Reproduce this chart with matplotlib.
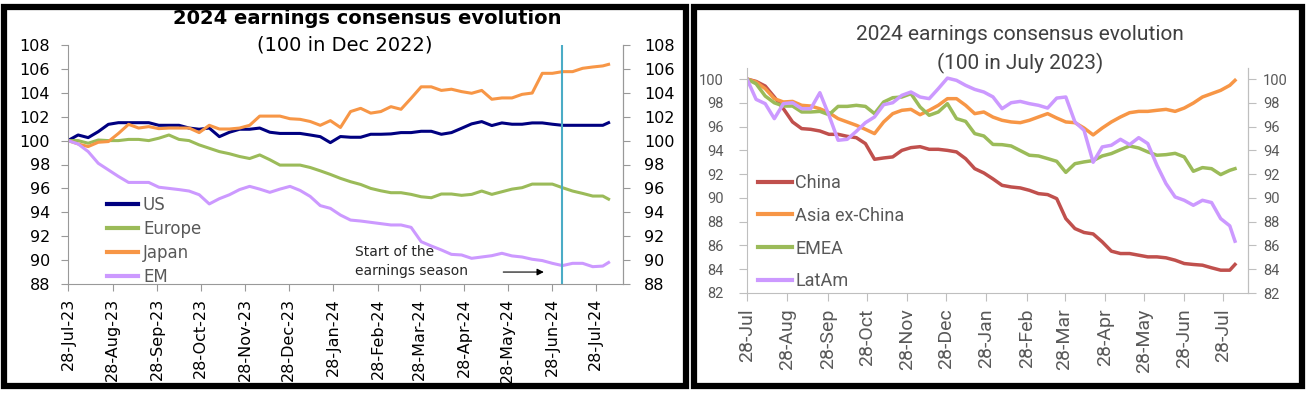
import pandas as pd
import matplotlib.pyplot as plt
import matplotlib.dates as mdates
from matplotlib.patches import Rectangle

# weekly observations, last one is a partial week
dates = list(pd.date_range('2023-07-28', periods=54, freq='7D')) + [pd.Timestamp('2024-08-06')]
month_ticks = pd.date_range('2023-07-28', periods=13, freq=pd.DateOffset(months=1))
season_start = pd.Timestamp('2024-07-05')

# left panel (DM / EM)
us = [100.0, 100.47, 100.25, 100.75, 101.36, 101.5, 101.5, 101.5, 101.5, 101.28, 101.28, 101.28, 101.05, 100.95,
      101.05, 100.33, 100.7, 100.95, 100.95, 101.05, 100.7, 100.6, 100.6, 100.6, 100.47, 100.33, 99.83,
      100.34, 100.28, 100.28, 100.53, 100.53, 100.56, 100.67, 100.67, 100.78, 100.78, 100.53, 100.67, 101.03,
      101.4, 101.59, 101.26, 101.48, 101.37, 101.37, 101.48, 101.48, 101.37, 101.28, 101.28, 101.28, 101.28,
      101.28, 101.5]
europe = [100.0, 100.0, 99.78, 100.05, 100.0, 100.0, 100.1, 100.1, 100.0, 100.2, 100.47, 100.1, 100.0, 99.64,
          99.36, 99.08, 98.9, 98.67, 98.5, 98.8, 98.4, 97.95, 97.95, 97.95, 97.75, 97.47, 97.17,
          96.84, 96.56, 96.33, 96.0, 95.8, 95.64, 95.64, 95.5, 95.3, 95.22, 95.53, 95.53, 95.42, 95.5, 95.78,
          95.5, 95.72, 95.94, 96.06, 96.36, 96.36, 96.36, 96.06, 95.78, 95.58, 95.36, 95.36, 95.1]
japan = [100.0, 99.72, 99.5, 99.86, 99.92, 100.6, 101.36, 101.05, 101.17, 101.0, 101.05, 101.05, 101.05, 100.67,
         101.28, 100.97, 100.97, 101.05, 101.28, 102.05, 102.05, 102.05, 101.83, 101.78, 101.6, 101.28, 101.67,
         101.1, 102.43, 102.7, 102.3, 102.43, 102.84, 102.62, 103.54, 104.5, 104.5, 104.2, 104.3, 104.1, 103.96,
         104.2, 103.46, 103.57, 103.57, 103.87, 103.98, 105.63, 105.63, 105.77, 105.77, 106.05, 106.16, 106.25,
         106.38]
em = [100.0, 99.72, 99.08, 98.1, 97.55, 97.0, 96.5, 96.5, 96.5, 96.1, 96.0, 95.9, 95.78, 95.47, 94.7, 95.14,
      95.47, 95.9, 96.17, 95.94, 95.67, 95.94, 96.17, 95.83, 95.33, 94.56, 94.33,
      93.77, 93.35, 93.27, 93.16, 93.05, 92.94, 92.94, 92.74, 91.54, 91.18, 90.85, 90.48, 90.43, 90.15, 90.26,
      90.37, 90.57, 90.35, 90.26, 90.07, 89.96, 89.73, 89.54, 89.73, 89.73, 89.45, 89.5, 89.8]

# right panel (EM regions)
china = [100.0, 99.8, 99.41, 98.49, 97.5, 96.39, 95.83, 95.77, 95.63, 95.35, 95.35, 95.18, 95.07, 94.57, 93.25,
         93.36, 93.45, 94.0, 94.23, 94.31, 94.09, 94.09, 94.0, 93.87, 93.3, 92.46, 92.1,
         91.6, 91.06, 90.92, 90.84, 90.64, 90.36, 90.28, 89.94, 88.26, 87.42, 87.09, 86.97, 86.3, 85.52, 85.32,
         85.32, 85.18, 85.04, 85.04, 84.96, 84.76, 84.48, 84.4, 84.34, 84.12, 83.92, 83.92, 84.4]
asia_ex_china = [100.0, 99.75, 99.19, 98.35, 98.07, 98.12, 97.79, 97.73, 97.5, 97.17, 96.67, 96.39, 96.11, 95.77,
                 95.41, 96.39, 97.09, 97.37, 97.45, 97.0, 97.37, 97.79, 98.35, 98.35, 97.79, 97.09, 97.23,
                 96.8, 96.53, 96.39, 96.33, 96.53, 96.81, 97.09, 96.72, 96.39, 96.33, 95.88, 95.3, 95.88, 96.39,
                 96.81, 97.17, 97.28, 97.28, 97.37, 97.45, 97.28, 97.56, 97.98, 98.49, 98.77, 99.05, 99.47, 99.89]
emea = [100.0, 99.6, 98.57, 98.0, 97.73, 97.73, 97.23, 97.23, 97.28, 97.0, 97.7, 97.7, 97.79, 97.7, 97.09, 98.07,
        98.43, 98.49, 98.77, 97.65, 96.95, 97.23, 97.93, 96.67, 96.44, 95.41, 95.21,
        94.5, 94.48, 94.37, 93.98, 93.59, 93.53, 93.31, 93.08, 92.15, 92.88, 93.03, 93.14, 93.53, 93.73, 94.06,
        94.37, 94.2, 93.87, 93.59, 93.64, 93.75, 93.45, 92.24, 92.55, 92.46, 91.96, 92.32, 92.46]
latam = [100.0, 98.29, 97.93, 96.67, 97.93, 98.01, 97.51, 97.51, 98.85, 96.95, 94.85, 94.93, 95.6, 96.33, 96.81,
         97.84, 98.01, 98.63, 98.91, 98.49, 98.35, 99.19, 100.08, 99.89, 99.47, 99.13, 98.91,
         98.5, 97.51, 98.01, 98.12, 97.93, 97.79, 97.56, 98.4, 98.49, 96.39, 95.69, 93.0, 94.29, 94.43, 94.93,
         94.48, 95.07, 94.57, 92.75, 91.2, 90.08, 89.8, 89.38, 89.8, 89.61, 88.26, 87.65, 86.36]

W, H = 1310, 394
fig = plt.figure(figsize=(W / 100, H / 100), dpi=100)
fig.patch.set_facecolor('white')


def box(x0, y0, x1, y1):
    return [x0 / W, 1 - y1 / H, (x1 - x0) / W, (y1 - y0) / H]


# black frames round each panel
for x0, x1 in [(4, 686), (694, 1302)]:
    fig.patches.append(Rectangle((x0 / W, 1 - 386 / H), (x1 - x0) / W, (386 - 7) / H,
                                 transform=fig.transFigure, fill=False, edgecolor='black', lw=4.5))

xmax = pd.Timestamp('2024-08-16')

######## left chart
ax1 = fig.add_axes(box(68, 45, 623, 284))
ax1.plot(dates, us, color='#000080', lw=2.2, label='US')
ax1.plot(dates, europe, color='#9bbb59', lw=2.2, label='Europe')
ax1.plot(dates, japan, color='#f79646', lw=2.2, label='Japan')
ax1.plot(dates, em, color='#cc99ff', lw=2.2, label='EM')
ax1.axvline(season_start, color='#4bacc6', lw=1.5)

ax1.set_xlim(dates[0], xmax)
ax1.set_ylim(88, 108)
ax1.set_yticks(range(88, 109, 2))
ax1.set_xticks(month_ticks)
ax1.xaxis.set_major_formatter(mdates.DateFormatter('%d-%b-%y'))
ax1.spines['top'].set_visible(False)
for s in ['left', 'right', 'bottom']:
    ax1.spines[s].set_color('#999999')
ax1.tick_params(axis='both', colors='#999999', labelcolor='black', length=5, labelsize=11.5)
ax1.tick_params(axis='y', pad=8)
ax1.tick_params(axis='x', rotation=90, pad=5)

ax1r = ax1.twinx()
ax1r.set_ylim(88, 108)
ax1r.set_yticks(range(88, 109, 2))
for s in ['top', 'left', 'bottom']:
    ax1r.spines[s].set_visible(False)
ax1r.spines['right'].set_color('#999999')
ax1r.tick_params(axis='y', colors='#999999', labelcolor='black', length=5, labelsize=11.5, pad=10)

leg1 = ax1.legend(loc='upper left', bbox_to_anchor=(107 / W, 1 - 196 / H), bbox_transform=fig.transFigure,
                  frameon=False, fontsize=12, borderpad=0, borderaxespad=0, handlelength=1.86,
                  handletextpad=0.3, labelspacing=0.36, labelcolor='#595959')
for h in leg1.get_lines():
    h.set_linewidth(3)

ax1.annotate('', xy=(pd.Timestamp('2024-06-24'), 89.0), xytext=(pd.Timestamp('2024-05-23'), 89.0),
             arrowprops=dict(arrowstyle='-|>', color='black', lw=0.8, mutation_scale=10))
ax1.text(pd.Timestamp('2024-02-12'), 89.88, 'Start of the\nearnings season', fontsize=10,
         ha='left', va='center', linespacing=1.45, color='#262626')

fig.text(367 / W, 1 - 19 / H, '2024 earnings consensus evolution', ha='center', va='center',
         fontsize=14, fontweight='bold', color='black')
fig.text(345 / W, 1 - 45 / H, '(100 in Dec 2022)', ha='center', va='center', fontsize=14, color='black')

######## right chart
rf = 'Roboto'
ax2 = fig.add_axes(box(747, 68, 1248, 293))
ax2.plot(dates, china, color='#c0504d', lw=2.5, label='China')
ax2.plot(dates, asia_ex_china, color='#f79646', lw=2.5, label='Asia ex-China')
ax2.plot(dates, emea, color='#9bbb59', lw=2.5, label='EMEA')
ax2.plot(dates, latam, color='#cc99ff', lw=2.5, label='LatAm')

ax2.set_xlim(dates[0], xmax)
ax2.set_ylim(82, 100.93)
ax2.set_yticks(range(82, 101, 2))
ax2.set_xticks(month_ticks)
ax2.xaxis.set_major_formatter(mdates.DateFormatter('%d-%b'))
ax2.spines['top'].set_visible(False)
for s in ['left', 'right', 'bottom']:
    ax2.spines[s].set_color('#bfbfbf')
ax2.tick_params(axis='both', colors='#bfbfbf', labelcolor='#595959', length=6)
ax2.tick_params(axis='y', labelsize=10.5, pad=11)
ax2.tick_params(axis='x', labelsize=14, rotation=90, pad=5)
for lab in ax2.get_xticklabels() + ax2.get_yticklabels():
    lab.set_family(rf)

ax2r = ax2.twinx()
ax2r.set_ylim(82, 100.93)
ax2r.set_yticks(range(82, 101, 2))
for s in ['top', 'left', 'bottom']:
    ax2r.spines[s].set_visible(False)
ax2r.spines['right'].set_color('#bfbfbf')
ax2r.tick_params(axis='y', colors='#bfbfbf', labelcolor='#595959', length=6, labelsize=10.5, pad=5)
for lab in ax2r.get_yticklabels():
    lab.set_family(rf)

leg2 = ax2.legend(loc='upper left', bbox_to_anchor=(758 / W, 1 - 174 / H), bbox_transform=fig.transFigure,
                  frameon=False, prop={'family': rf, 'size': 13}, borderpad=0, borderaxespad=0,
                  handlelength=1.9, handletextpad=0.17, labelspacing=0.82, labelcolor='#595959')
for h in leg2.get_lines():
    h.set_linewidth(3)

fig.text(1020 / W, 1 - 35 / H, '2024 earnings consensus evolution', ha='center', va='center',
         fontsize=15, family=rf, color='#404040')
fig.text(1020 / W, 1 - 63 / H, '(100 in July 2023)', ha='center', va='center',
         fontsize=15, family=rf, color='#404040')

fig.savefig('out.png', dpi=100)
